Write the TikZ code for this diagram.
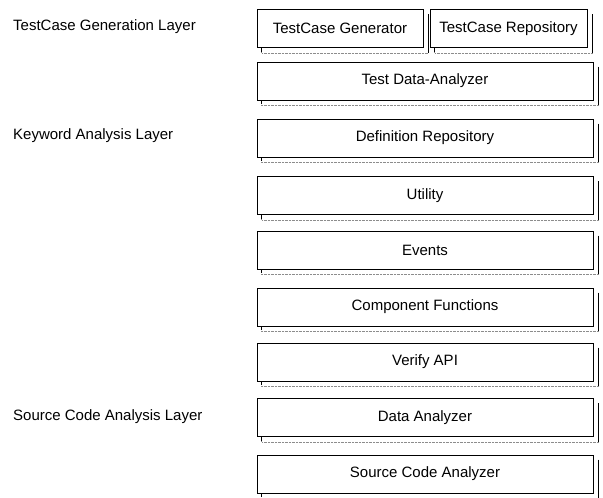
\documentclass[tikz,border=0pt]{standalone}
\usepackage{fontspec}
\setmainfont{Liberation Sans}
\usetikzlibrary{positioning}

\newcommand{\boxshade}[1]{%
  \draw[black!45,densely dotted] ([xshift=5pt]#1.south west) -- ([shift={(5pt,-5pt)}]#1.south west)
       -- ([shift={(5pt,-5pt)}]#1.south east);
  \draw[black,line width=0.6pt] ([shift={(5pt,-5pt)}]#1.north east) -- ([shift={(5pt,-5pt)}]#1.south east);
  \draw[black,line width=0.6pt] ([xshift=5pt]#1.south west) -- ([shift={(5pt,-4pt)}]#1.south west);
}

\begin{document}
\begin{tikzpicture}[x=1pt,y=-1pt,
    layer/.style={anchor=west,inner sep=0pt,font=\fontsize{15}{18}\selectfont},
    part/.style={draw,fill=white,line width=0.7pt,inner sep=0pt,minimum height=38pt,
                 minimum width=336pt,font=\fontsize{15}{18}\selectfont}]
  \useasboundingbox (0,0) rectangle (603,498);
  % layer names
  \node[layer] (lgen) at (13,27){TestCase Generation Layer};
  \node[layer] (lkey) at (13,136){Keyword Analysis Layer};
  \node[layer] (lsrc) at (13,417){Source Code Analysis Layer};
  % top row
  \node[part,minimum width=166pt] (tcgen) at (340,28.5){TestCase Generator};
  \node[part,minimum width=157pt] (tcrepo) at (508.5,28.5){TestCase Repository};
  % stack
  \node[part] (tdana)   at (425,81){Test Data-Analyzer};
  \node[part] (defrepo) at (425,138){Definition Repository};
  \node[part] (util)    at (425,195.5){Utility};
  \node[part] (events)  at (425,250){Events};
  \node[part] (compfun) at (425,307){Component Functions};
  \node[part] (verapi)  at (425,362){Verify API};
  \node[part] (dana)    at (425,417.5){Data Analyzer};
  \node[part] (scana)   at (425,474){Source Code Analyzer};
  % shadows
  \foreach \n in {tcgen,tcrepo,tdana,defrepo,util,events,compfun,verapi,dana,scana}
    {\boxshade{\n}}
\end{tikzpicture}
\end{document}
